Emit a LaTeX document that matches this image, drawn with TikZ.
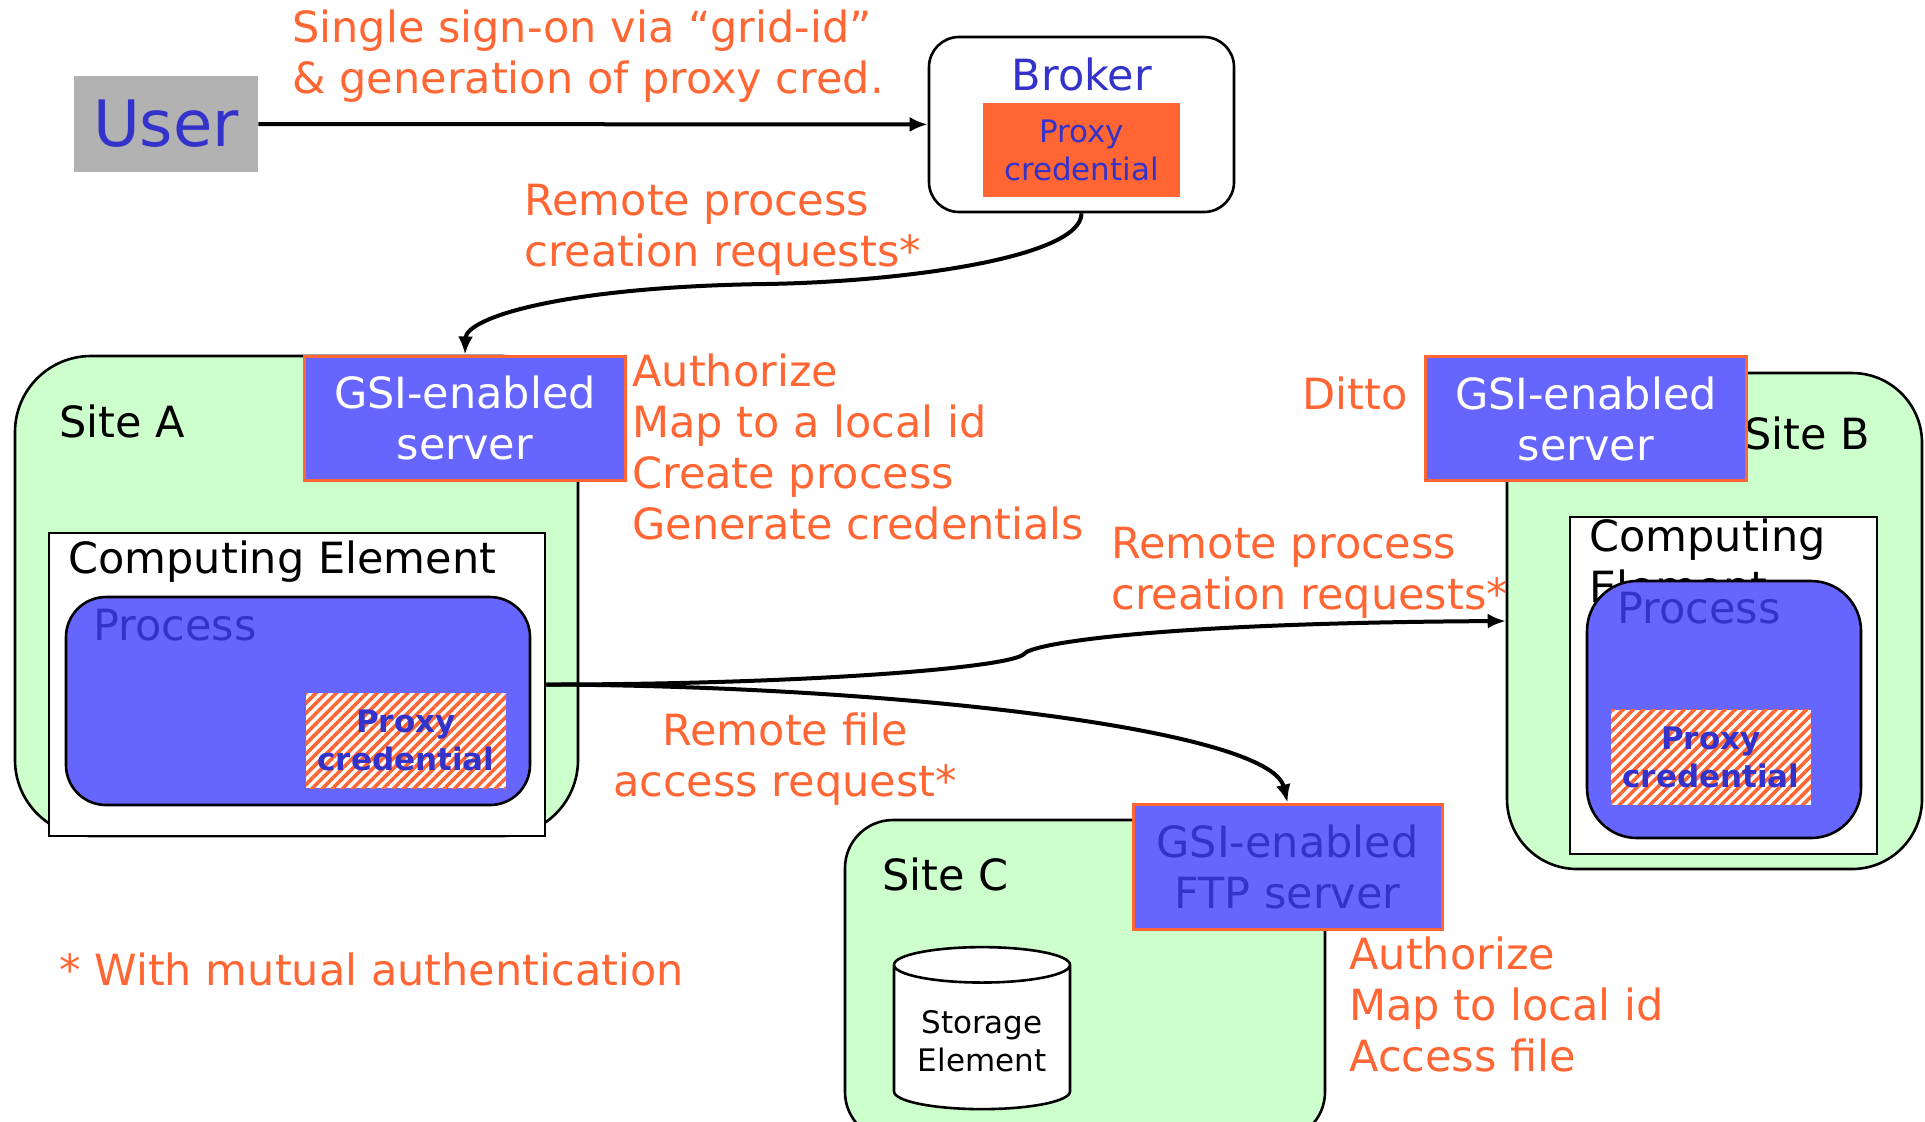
\documentclass[tikz,border=0pt]{standalone}
\usepackage{fontspec}
\setmainfont{DejaVu Sans}
\usepackage{tikz}
\usetikzlibrary{arrows.meta,positioning,shapes.geometric,patterns.meta}
\definecolor{gsiorange}{HTML}{FF6633}
\definecolor{procblue}{HTML}{6666FF}
\definecolor{textblue}{HTML}{3333CC}
\definecolor{sitegreen}{HTML}{CCFFCC}
\definecolor{usergray}{HTML}{B2B2B2}
\newcommand{\mainsize}{\fontsize{21.5}{25.5}\selectfont}
\newcommand{\credsize}{\fontsize{15.5}{19}\selectfont}

\begin{document}
\begin{tikzpicture}[
  x=0.5pt, y=-0.5pt,
  font=\mainsize,
  site/.style={draw, line width=1.3pt, fill=sitegreen},
  server/.style={draw=gsiorange, line width=1.5pt, fill=procblue, text=white,
                 align=center, inner sep=0pt, minimum width=160.5pt, minimum height=62pt},
  cebox/.style={draw, line width=1.3pt, fill=white},
  proc/.style={draw, line width=1.3pt, fill=procblue},
  cred/.style={preaction={fill=white}, pattern color=gsiorange,
               pattern={Lines[angle=45, distance=3.6pt, line width=1.8pt]},
               text=textblue, font=\credsize\bfseries, align=center, inner sep=0pt,
               minimum width=100pt, minimum height=47.5pt},
  note/.style={text=gsiorange, align=left, inner sep=0pt},
  lbl/.style={inner sep=0pt},
  arrow/.style={-{Latex[length=9pt, width=7.5pt]}, line width=2pt}
]
\useasboundingbox (0,0) rectangle (1925,1121);

% user and broker
\node[fill=usergray, text=textblue, font=\fontsize{32}{38}\selectfont,
      minimum width=92pt, minimum height=48pt] (user) at (166,124) {User};
\node[draw, line width=1.3pt, rounded corners=15pt, fill=white,
      minimum width=152.5pt, minimum height=87.5pt] (broker) at (1081.5,124.5) {};
\node[lbl, anchor=base, text=textblue] (brokertext) at (1082,90) {Broker};
\node[fill=gsiorange, text=textblue, font=\credsize, align=center, inner sep=0pt,
      minimum width=98.5pt, minimum height=47pt] (brokercred) at (1081.5,150) {Proxy\\credential};
\node[note, anchor=north west] (ssolabel) at (292,9.5)
  {Single sign-on via “grid-id”\\\& generation of proxy cred.};

% site A
\node[site, rounded corners=38pt, minimum width=281.5pt, minimum height=240pt] (sitea) at (296.5,596) {};
\node[lbl, anchor=base west] (siteatext) at (59,437) {Site A};
\node[cebox, minimum width=248pt, minimum height=151.5pt] (cea) at (297,684.5) {};
\node[lbl, anchor=base west] (ceatext) at (68,573) {Computing Element};
\node[proc, rounded corners=20pt, minimum width=232pt, minimum height=104pt] (proca) at (298,701) {};
\node[lbl, anchor=base west, text=textblue] (procatext) at (93,640) {Process};
\node[cred] (creda) at (406,740.5) {Proxy\\credential};
\node[server] (gsia) at (465,418) {GSI-enabled\\server};
\node[note, anchor=north west] (autha) at (632,353)
  {Authorize\\Map to a local id\\Create process\\Generate credentials};

% site B
\node[site, rounded corners=35pt, minimum width=207.5pt, minimum height=248pt] (siteb) at (1714.5,621) {};
\node[lbl, anchor=base west] (sitebtext) at (1744,449) {Site B};
\node[server] (gsib) at (1586,418.5) {GSI-enabled\\server};
\node[lbl, anchor=base east, text=gsiorange] (ditto) at (1408,409) {Ditto};
\node[cebox, minimum width=153.5pt, minimum height=168.5pt] (ceb) at (1723.5,685.5) {};
\node[lbl, anchor=north west, align=left] (cebtext) at (1589,518) {Computing\\Element};
\node[proc, rounded corners=25pt, minimum width=137pt, minimum height=128.5pt] (procb) at (1724,709.5) {};
\node[lbl, anchor=base west, text=textblue] (procbtext) at (1617,623) {Process};
\node[cred] (credb) at (1711,757) {Proxy\\credential};

% site C
\node[site, rounded corners=24pt, minimum width=240pt, minimum height=160pt] (sitec) at (1085,980) {};
\node[lbl, anchor=base west] (sitectext) at (882,890) {Site C};
\node[server, text=textblue, minimum width=154.5pt, minimum height=62.5pt] (ftp) at (1287.5,866.5)
  {GSI-enabled\\FTP server};
\node[cylinder, draw, line width=1.3pt, fill=white, shape border rotate=90, aspect=0.25,
      minimum width=88pt, minimum height=81pt, font=\credsize, align=center] (storage) at (982,1041)
  {Storage\\Element};
\node[note, anchor=north west] (authc) at (1349,936) {Authorize\\Map to local id\\Access file};

% requests
\draw[arrow] (user) -- (broker);
\draw[arrow] (broker.south) .. controls (1081.5,258) and (900,282) .. (765,284)
  .. controls (560,287) and (466,318) .. (gsia.north);
\draw[arrow] (cea.east) .. controls (800,684.5) and (1010,668) .. (1024,654)
  .. controls (1030,644) and (1150,623) .. (siteb.west);
\draw[arrow] (cea.east) .. controls (900,686) and (1270,730) .. (ftp.north);
\node[note, anchor=north west] (remotea) at (524,184) {Remote process\\creation requests*};
\node[note, anchor=north west] (remoteb) at (1111,527) {Remote process\\creation requests*};
\node[note, align=center, anchor=north] (filelabel) at (785,712) {Remote file\\access request*};
\node[note, anchor=base west] (mutual) at (59,985) {* With mutual authentication};
\end{tikzpicture}
\end{document}
